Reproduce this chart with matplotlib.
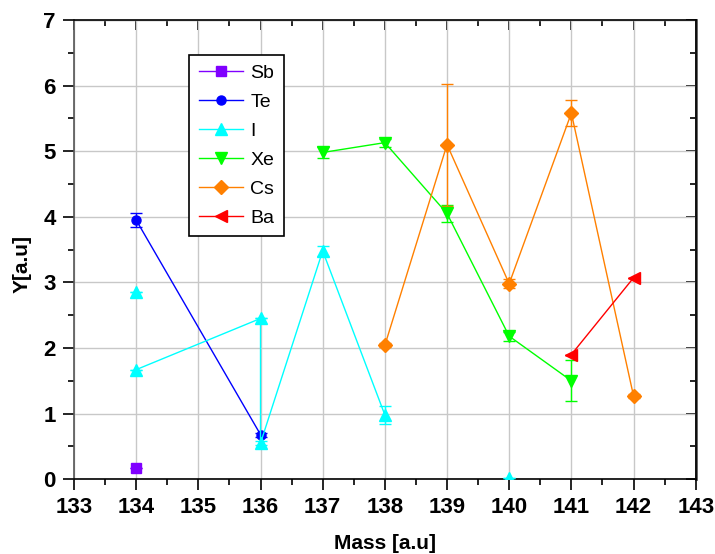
import numpy as np
import matplotlib
matplotlib.use("Agg")
import matplotlib.pyplot as plt
from matplotlib.ticker import MultipleLocator
from matplotlib.lines import Line2D

plt.rcParams['font.family'] = ['Liberation Sans', 'DejaVu Sans']

# data (nan = break in the line)
sb_x = [134]
sb_y = [0.17]
sb_err = [0.0]

te_x = [134, 136]
te_y = [3.95, 0.68]
te_err = [0.1, 0.03]

i_x = [134, 134, 134, 136, 136, 137, 138, 138, 140]
i_y = [2.85, np.nan, 1.67, 2.45, 0.55, 3.48, 0.98, np.nan, 0.02]
i_err = [0.0, 0.0, 0.0, 0.0, 0.03, 0.08, 0.14, 0.0, 0.0]

xe_x = [137, 138, 139, 140, 141]
xe_y = [4.98, 5.13, 4.05, 2.18, 1.5]
xe_err = [0.08, 0.06, 0.13, 0.07, 0.31]

cs_x = [138, 139, 140, 141, 142]
cs_y = [2.04, 5.1, 2.98, 5.58, 1.27]
cs_err = [0.03, 0.93, 0.07, 0.2, 0.03]

ba_x = [141, 142]
ba_y = [1.9, 3.07]
ba_err = [0.0, 0.0]

series = [
    ("Sb", sb_x, sb_y, sb_err, "#8000ff", "s", 6.5),
    ("Te", te_x, te_y, te_err, "#0000ff", "o", 6.5),
    ("I", i_x, i_y, i_err, "#00ffff", "^", 8.5),
    ("Xe", xe_x, xe_y, xe_err, "#00ff00", "v", 8.5),
    ("Cs", cs_x, cs_y, cs_err, "#ff8000", "D", 7.5),
    ("Ba", ba_x, ba_y, ba_err, "#ff0000", "<", 8.5),
]

fig = plt.figure(figsize=(7.15, 5.54), dpi=100)
ax = fig.add_axes([0.1035, 0.135, 0.8695, 0.829])

handles = []
for name, x, y, err, col, mk, ms in series:
    ax.errorbar(x, y, yerr=err, color=col, marker=mk, markersize=ms, lw=1,
                elinewidth=1, capsize=4, capthick=1, zorder=3)
    handles.append(Line2D([], [], color=col, marker=mk, markersize=ms, lw=1, label=name))

ax.set_xlim(133, 143)
ax.set_ylim(0, 7)
ax.xaxis.set_major_locator(MultipleLocator(1))
ax.xaxis.set_minor_locator(MultipleLocator(0.5))
ax.yaxis.set_major_locator(MultipleLocator(1))
ax.yaxis.set_minor_locator(MultipleLocator(0.5))
ax.grid(True, which='major', color='#c8c8c8', lw=1, zorder=0)
ax.set_axisbelow(True)

ax.tick_params(which='major', direction='out', length=8, width=1.2, labelsize=16, pad=5)
ax.tick_params(which='minor', direction='out', length=4, width=1.2)
for lab in ax.get_xticklabels() + ax.get_yticklabels():
    lab.set_fontweight('bold')

# inward ticks on top and right
top = ax.secondary_xaxis('top')
top.xaxis.set_major_locator(MultipleLocator(1))
top.xaxis.set_minor_locator(MultipleLocator(0.5))
top.tick_params(which='major', direction='in', length=7, width=1.2, labeltop=False)
top.tick_params(which='minor', direction='in', length=4, width=1.2)
right = ax.secondary_yaxis('right')
right.yaxis.set_major_locator(MultipleLocator(1))
right.yaxis.set_minor_locator(MultipleLocator(0.5))
right.tick_params(which='major', direction='in', length=7, width=1.2, labelright=False)
right.tick_params(which='minor', direction='in', length=4, width=1.2)
right.spines['right'].set_linewidth(2)
right.spines['right'].set_color('#555555')

for s in ax.spines.values():
    s.set_linewidth(1.2)
ax.spines['left'].set_color('#555555')

ax.set_xlabel("Mass [a.u]", fontsize=15, fontweight='bold', labelpad=11)
ax.set_ylabel("Y[a.u]", fontsize=15, fontweight='bold')
ax.yaxis.set_label_coords(-0.068, 0.468)

leg = ax.legend(handles=handles, loc='upper left', bbox_to_anchor=(0.185, 0.924),
                borderaxespad=0, fontsize=14, frameon=True, fancybox=False,
                edgecolor='black', framealpha=1, handlelength=2.3,
                labelspacing=0.58, borderpad=0.5, handletextpad=0.35)
leg.get_frame().set_linewidth(1.2)

fig.savefig("out.png", dpi=100)
